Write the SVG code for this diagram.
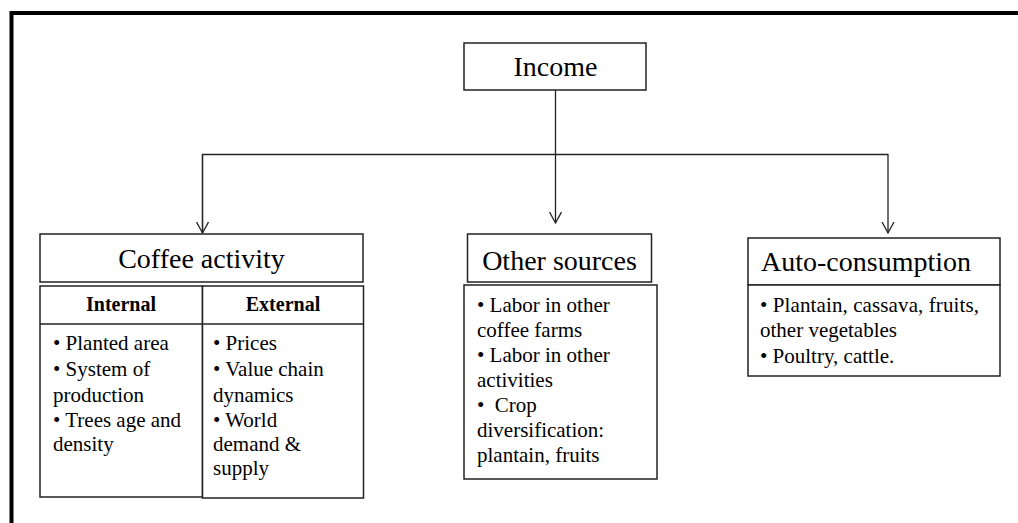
<svg xmlns="http://www.w3.org/2000/svg" width="1018" height="523" viewBox="0 0 1018 523">
<style>
  .box{fill:#fff;stroke:#222;stroke-width:1.5}
  .conn{fill:none;stroke:#222;stroke-width:1.3}
  .t{font-family:"Liberation Serif","Times New Roman",serif;fill:#000}
  .h{font-size:28px}
  .b{font-size:21px}
  .hb{font-size:20px;font-weight:bold}
</style>
<defs>
  <marker id="arr" markerWidth="14" markerHeight="14" refX="11" refY="6.5" orient="auto" markerUnits="userSpaceOnUse">
    <path d="M0,0.5 L11,6.5 L0,12.5" fill="none" stroke="#222" stroke-width="1.3"/>
  </marker>
</defs>
<rect width="1018" height="523" fill="#fff"/>
<path d="M11.5,523 V13 H1018" fill="none" stroke="#000" stroke-width="4"/>

<g id="connectors">
  <path class="conn" d="M555.5,90 V223" marker-end="url(#arr)"/>
  <path class="conn" d="M202.5,233 V154.5 H888 V233" marker-end="url(#arr)"/>
  <path class="conn" d="M202.5,154.5 V233" marker-end="url(#arr)"/>
</g>

<g id="income">
  <rect class="box" x="464" y="43" width="182" height="47"/>
  <text class="t h" x="555.5" y="76" text-anchor="middle">Income</text>
</g>

<g id="coffee-activity">
  <rect class="box" x="40" y="234" width="323" height="48"/>
  <text class="t h" x="201.5" y="268" text-anchor="middle">Coffee activity</text>
</g>

<g id="internal">
  <rect class="box" x="40" y="286" width="162.5" height="211"/>
  <line class="box" x1="40" y1="324" x2="202.5" y2="324"/>
  <text class="t hb" x="121" y="311" text-anchor="middle">Internal</text>
  <text class="t b" x="53" y="350">• Planted area</text>
  <text class="t b" x="53" y="376">• System of</text>
  <text class="t b" x="53" y="402">production</text>
  <text class="t b" x="53" y="427">• Trees age and</text>
  <text class="t b" x="53" y="451">density</text>
</g>

<g id="external">
  <rect class="box" x="202.5" y="286" width="161" height="212"/>
  <line class="box" x1="202.5" y1="324" x2="363.5" y2="324"/>
  <text class="t hb" x="283" y="311" text-anchor="middle">External</text>
  <text class="t b" x="213" y="350">• Prices</text>
  <text class="t b" x="213" y="376">• Value chain</text>
  <text class="t b" x="213" y="402">dynamics</text>
  <text class="t b" x="213" y="427">• World</text>
  <text class="t b" x="213" y="451">demand &amp;</text>
  <text class="t b" x="213" y="475">supply</text>
</g>

<g id="other-sources">
  <rect class="box" x="467.5" y="234" width="184" height="48"/>
  <text class="t h" x="559.5" y="270" text-anchor="middle">Other sources</text>
  <rect class="box" x="464" y="285" width="193" height="194"/>
  <text class="t b" x="477" y="312">• Labor in other</text>
  <text class="t b" x="477" y="337">coffee farms</text>
  <text class="t b" x="477" y="362">• Labor in other</text>
  <text class="t b" x="477" y="387">activities</text>
  <text class="t b" x="477" y="412">•&#160; Crop</text>
  <text class="t b" x="477" y="437">diversification:</text>
  <text class="t b" x="477" y="462">plantain, fruits</text>
</g>

<g id="auto-consumption">
  <rect class="box" x="748" y="238" width="252" height="47"/>
  <text class="t h" x="761" y="271">Auto-consumption</text>
  <rect class="box" x="748" y="285" width="252" height="91"/>
  <text class="t b" x="760" y="312" textLength="219" lengthAdjust="spacing">• Plantain, cassava, fruits,</text>
  <text class="t b" x="760" y="337">other vegetables</text>
  <text class="t b" x="760" y="363">• Poultry, cattle.</text>
</g>
</svg>
